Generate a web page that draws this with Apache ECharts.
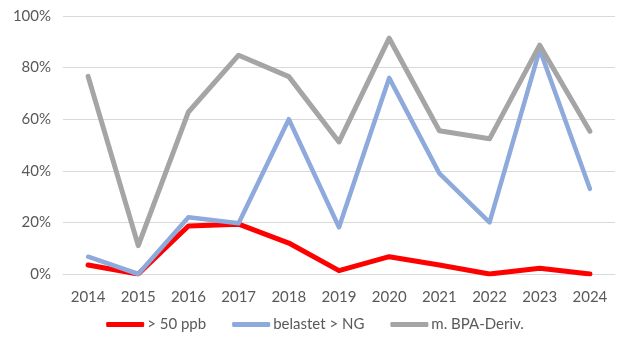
<!DOCTYPE html>
<html><head><meta charset="utf-8">
<script src="https://cdn.jsdelivr.net/npm/echarts@6/dist/echarts.min.js"></script>
<style>html,body{margin:0;padding:0;background:#fff}#c{width:630px;height:357px}</style>
</head><body><div id="c"></div>
<script>
var categories = ['2014','2015','2016','2017','2018','2019','2020','2021','2022','2023','2024'];
var seriesNames = ['> 50 ppb','belastet > NG','m. BPA-Deriv.'];
var over50ppb = [3.5, 0, 18.6, 19.3, 12, 1.3, 6.7, 3.5, 0, 2.2, 0];
var belastetNG = [6.7, 0, 22, 19.7, 60, 18.1, 76, 39, 20, 87, 33];
var bpaDeriv = [76.6, 11, 62.8, 84.8, 76.5, 51.2, 91.4, 55.5, 52.4, 88.7, 55.3];
var yTicks = [0, 20, 40, 60, 80, 100];

var font = 'Lato, "Open Sans", sans-serif';
var chart = echarts.init(document.getElementById('c'), null, {renderer:'canvas'});
function mk(name, data, color, width){
  return {name:name, type:'line', data:data, symbol:'none', smooth:false,
    lineStyle:{color:color, width:width, cap:'round', join:'round'}, itemStyle:{color:color}};
}
chart.setOption({
  animation:false,
  backgroundColor:'#ffffff',
  grid:{left:63, right:15, top:16, bottom:83, containLabel:false},
  xAxis:{type:'category', data:categories, boundaryGap:true,
    axisLine:{show:true, lineStyle:{color:'#D9D9D9', width:1}},
    axisTick:{show:false},
    axisLabel:{color:'#595959', fontSize:15, fontFamily:font, margin:16}},
  yAxis:{type:'value', min:yTicks[0], max:yTicks[yTicks.length-1], interval:20,
    axisLine:{show:false}, axisTick:{show:false},
    splitLine:{lineStyle:{color:'#D9D9D9', width:1}},
    axisLabel:{color:'#595959', fontSize:15, fontFamily:font, margin:12,
      formatter:function(v){return v+'%';}}},
  legend:{bottom:20, left:'center', itemWidth:38, itemHeight:5, itemGap:26,
    icon:'roundRect',
    textStyle:{color:'#595959', fontSize:15, fontFamily:font, padding:[0,0,0,-2]},
    data:seriesNames},
  series:[
    mk(seriesNames[0], over50ppb, '#FF0000', 5),
    mk(seriesNames[1], belastetNG, '#8EA9DB', 4.5),
    mk(seriesNames[2], bpaDeriv, '#A5A5A5', 5)
  ]
});
</script></body></html>
